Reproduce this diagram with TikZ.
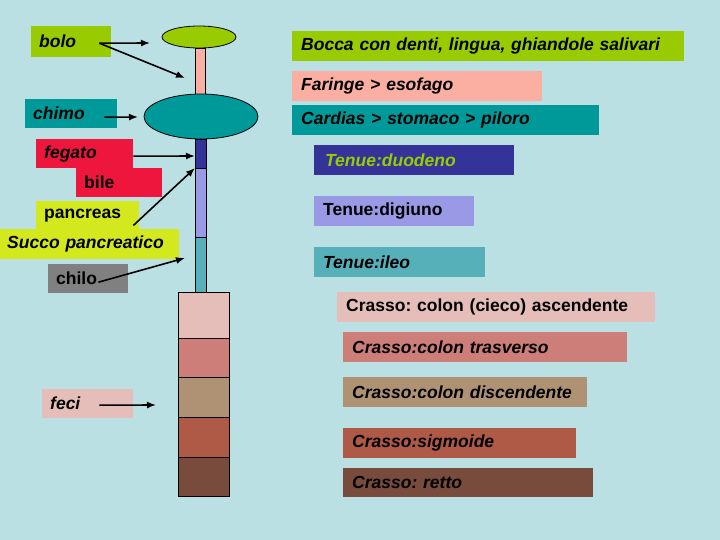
\documentclass[tikz,border=0pt]{standalone}
\usepackage{fontspec}
\setsansfont{Liberation Sans}
\usepackage{tikz}
\usetikzlibrary{positioning, shapes.geometric, arrows.meta}
\definecolor{sfondo}{RGB}{187,224,227}
\definecolor{erba}{RGB}{153,204,0}
\definecolor{salmone}{RGB}{250,175,162}
\definecolor{petrolio}{RGB}{0,153,153}
\definecolor{rosso}{RGB}{238,22,60}
\definecolor{lime}{RGB}{212,232,30}
\definecolor{grigio}{RGB}{128,128,128}
\definecolor{blu}{RGB}{51,51,153}
\definecolor{lilla}{RGB}{153,153,230}
\definecolor{ottanio}{RGB}{86,176,186}
\definecolor{rosa}{RGB}{230,190,185}
\definecolor{corallo}{RGB}{205,126,120}
\definecolor{sabbia}{RGB}{175,146,115}
\definecolor{mattone}{RGB}{175,90,70}
\definecolor{bruno}{RGB}{120,75,60}
\frenchspacing
\tikzset{
    lab/.style={rectangle, anchor=north west, inner xsep=8pt, inner ysep=0pt, minimum height=30pt, align=left, font=\sffamily\bfseries\fontsize{17.5}{20}\selectfont},
    ilab/.style={lab, font=\sffamily\bfseries\itshape\fontsize{17.5}{20}\selectfont},
    seg/.style={rectangle, draw=black, line width=0.8pt, inner sep=0pt, anchor=north west},
    organ/.style={ellipse, draw=black, line width=0.8pt, inner sep=0pt},
    arr/.style={-{Latex[length=9pt, width=7pt]}, line width=1.6pt},
}
\begin{document}
\begin{tikzpicture}[x=1pt, y=-1pt]
    \fill[sfondo] (0,0) rectangle (720,540);
    \useasboundingbox (0,0) rectangle (720,540);
    % tubo digerente
    \node [seg, fill=salmone, minimum width=10pt, minimum height=46pt] (esof) at (195,48) {};
    \node [seg, fill=blu, minimum width=11pt, minimum height=29pt] (duod) at (195,139) {};
    \node [seg, fill=lilla, minimum width=11pt, minimum height=69pt] (digi) at (195,168) {};
    \node [seg, fill=ottanio, minimum width=11pt, minimum height=55pt] (ileo) at (195,237) {};
    \node [organ, fill=erba, minimum width=74pt, minimum height=22pt] (bocca) at (199,37) {};
    \node [organ, fill=petrolio, minimum width=114pt, minimum height=45pt] (stom) at (201,116.5) {};
    \node [seg, fill=rosa, minimum width=51pt, minimum height=46pt] (asc) at (178,292) {};
    \node [seg, fill=corallo, minimum width=51pt, minimum height=39pt] (trasv) at (178,338) {};
    \node [seg, fill=sabbia, minimum width=51pt, minimum height=40pt] (disc) at (178,377) {};
    \node [seg, fill=mattone, minimum width=51pt, minimum height=40pt] (sigm) at (178,417) {};
    \node [seg, fill=bruno, minimum width=51pt, minimum height=39pt] (retto) at (178,457) {};
    % etichette a sinistra
    \node [ilab, fill=erba, text width=64pt, minimum height=31pt] (bolo) at (31,26) {bolo};
    \node [ilab, fill=petrolio, text width=76pt, minimum height=29pt] (chimo) at (25,99) {chimo};
    \node [ilab, fill=rosso, text width=81pt, minimum height=29pt] (fegato) at (36,139) {fegato};
    \node [lab, fill=rosso, text width=70pt, minimum height=29pt] (bile) at (76,168) {bile};
    \node [lab, fill=lime, text width=87pt, minimum height=28pt] (pancr) at (36,201) {pancreas};
    \node [ilab, fill=lime, text width=165pt, inner xsep=7pt] (succo) at (0,229) {Succo pancreatico};
    \node [lab, fill=grigio, text width=64pt, minimum height=29pt] (chilo) at (48,264) {chilo};
    \node [ilab, fill=rosa, text width=75pt, minimum height=29pt] (feci) at (42,389) {feci};
    % etichette a destra
    \node [ilab, fill=erba, text width=374pt, inner xsep=9pt] (tbocca) at (292,31) {Bocca con denti, lingua, ghiandole salivari};
    \node [ilab, fill=salmone, text width=232pt, inner xsep=9pt] (tfar) at (292,71) {Faringe > esofago};
    \node [ilab, fill=petrolio, text width=289pt, inner xsep=9pt] (tcard) at (292,105) {Cardias > stomaco > piloro};
    \node [ilab, fill=blu, text=erba, text width=178pt, inner xsep=11pt] (tduod) at (314,145) {Tenue:duodeno};
    \node [lab, fill=lilla, text width=142pt, inner xsep=9pt] (tdigi) at (314,196) {Tenue:digiuno};
    \node [ilab, fill=ottanio, text width=153pt, inner xsep=9pt] (tileo) at (314,247) {Tenue:ileo};
    \node [lab, fill=rosa, text width=300pt, inner xsep=9pt] (tasc) at (337,292) {Crasso: colon (cieco) ascendente};
    \node [ilab, fill=corallo, text width=266pt, inner xsep=9pt] (ttrasv) at (343,332) {Crasso:colon trasverso};
    \node [ilab, fill=sabbia, text width=226pt, inner xsep=9pt] (tdisc) at (343,377) {Crasso:colon discendente};
    \node [ilab, fill=mattone, text width=215pt, inner xsep=9pt] (tsigm) at (343,428) {Crasso:sigmoide};
    \node [ilab, fill=bruno, text width=232pt, inner xsep=9pt, minimum height=29pt] (tretto) at (343,468) {Crasso: retto};
    % frecce
    \coordinate (pbocca) at (150,43);
    \coordinate (pfar) at (185,78);
    \coordinate (pstom) at (138,117);
    \coordinate (pduod) at (195,156);
    \coordinate (pdigi) at (195,168);
    \coordinate (pileo) at (185,258);
    \coordinate (pretto) at (156,405);
    \draw[arr] ([xshift=-12pt, yshift=-1.5pt]bolo.east) -- (pbocca);
    \draw[arr] ([xshift=-12pt, yshift=-1.5pt]bolo.east) -- (pfar);
    \draw[arr] ([xshift=-13pt, yshift=-3.5pt]chimo.east) -- (pstom);
    \draw[arr] ([yshift=-2.5pt]fegato.east) -- (pduod);
    \draw[arr] ([xshift=-6pt, yshift=4pt]pancr.south east) -- (pdigi);
    \draw[arr] ([xshift=-30pt, yshift=-3.5pt]chilo.east) -- (pileo);
    \draw[arr] ([xshift=-34pt, yshift=-1.5pt]feci.east) -- (pretto);
\end{tikzpicture}
\end{document}
